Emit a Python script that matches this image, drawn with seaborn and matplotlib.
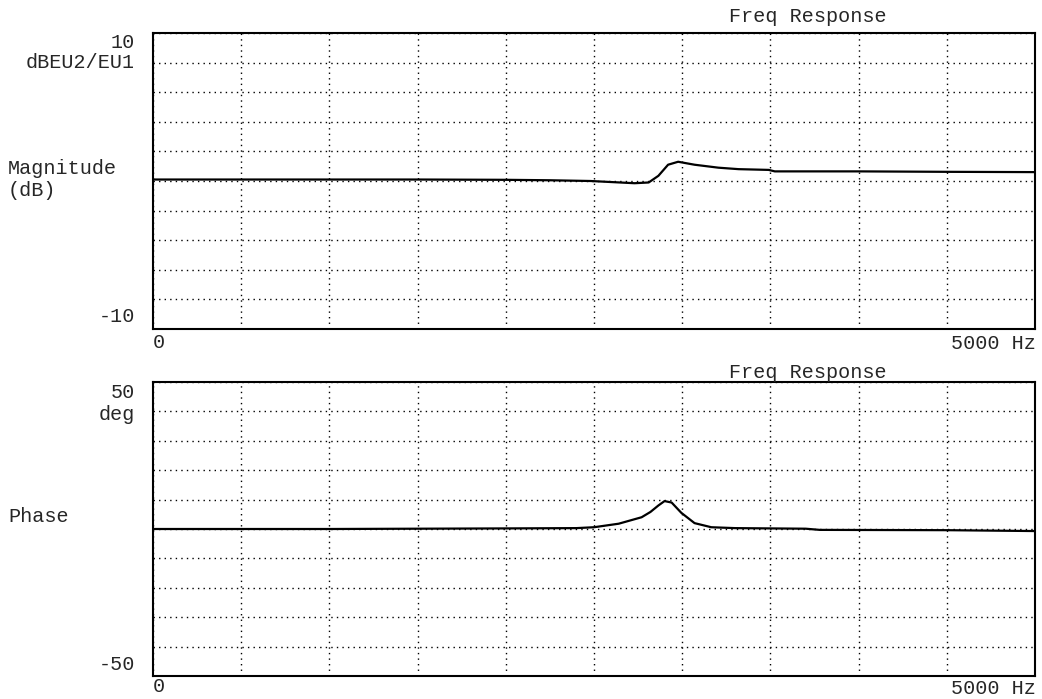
import numpy as np
import matplotlib
matplotlib.use("Agg")
import matplotlib.pyplot as plt
import seaborn as sns
import pandas as pd

# Frequency response data
freq_mag = [0, 500, 1000, 1500, 2000, 2250, 2480, 2730, 2810, 2865, 2920,
            2977, 3070, 3205, 3320, 3490, 3525, 4000, 4500, 5000]
mag_db = [0.1, 0.1, 0.1, 0.1, 0.08, 0.05, 0.0, -0.15, -0.1, 0.35, 1.1,
          1.3, 1.1, 0.9, 0.8, 0.75, 0.65, 0.65, 0.62, 0.6]

freq_ph = [0, 1000, 2000, 2400, 2500, 2640, 2770, 2820, 2865, 2900, 2940,
           2995, 3070, 3165, 3300, 3700, 3780, 4500, 5000]
phase_deg = [0.0, 0.0, 0.2, 0.3, 0.6, 1.8, 4.0, 5.8, 8.0, 9.5, 9.0,
             5.5, 2.0, 0.6, 0.3, 0.1, -0.3, -0.4, -0.7]

mag_df = pd.DataFrame({"freq": freq_mag, "mag": mag_db})
ph_df = pd.DataFrame({"freq": freq_ph, "phase": phase_deg})

sns.set_theme(style="white")
plt.rcParams["font.family"] = ["Liberation Mono", "DejaVu Sans Mono"]
FS = 14.5

W, H = 1042, 699
fig = plt.figure(figsize=(W / 100, H / 100), dpi=100)
fig.patch.set_facecolor("white")


def px(x, y):
    return x / W, 1 - y / H


ax1 = fig.add_axes([153 / W, 1 - 329 / H, 882 / W, 296 / H])
ax2 = fig.add_axes([153 / W, 1 - 676 / H, 882 / W, 294 / H])

sns.lineplot(data=mag_df, x="freq", y="mag", ax=ax1, color="black", lw=1.6)
sns.lineplot(data=ph_df, x="freq", y="phase", ax=ax2, color="black", lw=1.6)

for ax, lim, step in [(ax1, 10, 2), (ax2, 50, 10)]:
    ax.set_xlim(0, 5000)
    ax.set_ylim(-lim, lim)
    ax.set_xticks(np.arange(0, 5001, 500))
    ax.set_yticks(np.arange(-lim, lim + 1, step))
    ax.tick_params(length=0, labelleft=False, labelbottom=False)
    ax.grid(True, color="black", linestyle=(0, (1, 3)), linewidth=1.0)
    ax.set_xlabel("")
    ax.set_ylabel("")
    for s in ax.spines.values():
        s.set_color("black")
        s.set_linewidth(1.5)
    ax.set_facecolor("white")

# titles
fig.text(*px(808, 16), "Freq Response", ha="center", va="center", fontsize=FS)
fig.text(*px(808, 372), "Freq Response", ha="center", va="center", fontsize=FS)

# magnitude labels
fig.text(*px(135, 43), "10", ha="right", va="center", fontsize=FS)
fig.text(*px(135, 63), "dBEU2/EU1", ha="right", va="center", fontsize=FS)
fig.text(*px(8, 168), "Magnitude", ha="left", va="center", fontsize=FS)
fig.text(*px(8, 190), "(dB)", ha="left", va="center", fontsize=FS)
fig.text(*px(135, 317), "-10", ha="right", va="center", fontsize=FS)
fig.text(*px(153, 342), "0", ha="left", va="center", fontsize=FS)
fig.text(*px(1036, 343), "5000 Hz", ha="right", va="center", fontsize=FS)

# phase labels
fig.text(*px(135, 392), "50", ha="right", va="center", fontsize=FS)
fig.text(*px(135, 414), "deg", ha="right", va="center", fontsize=FS)
fig.text(*px(8, 516), "Phase", ha="left", va="center", fontsize=FS)
fig.text(*px(135, 665), "-50", ha="right", va="center", fontsize=FS)
fig.text(*px(153, 686), "0", ha="left", va="center", fontsize=FS)
fig.text(*px(1036, 689), "5000 Hz", ha="right", va="center", fontsize=FS)

fig.savefig("out.png", dpi=100)
